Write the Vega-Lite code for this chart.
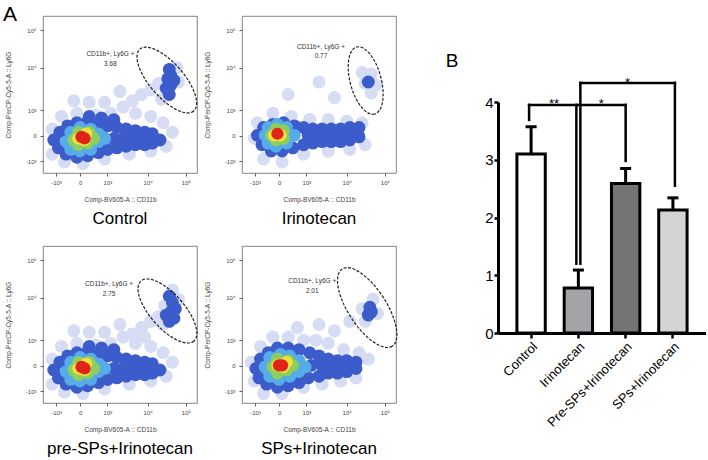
{
  "$schema": "https://vega.github.io/schema/vega-lite/v6.json",
  "background": "white",
  "padding": {"left": 2, "top": 3, "right": 0, "bottom": 0},
  "config": {
    "font": "Liberation Sans",
    "view": {"stroke": "#666", "strokeWidth": 0.8},
    "axis": {"grid": false}
  },
  "datasets": {
    "flow": [
      {"p":"C","k":"A","x":-26,"y":97,"t":"A"},
      {"p":"C","k":"gate","x":80.4,"y":59.2},
      {"p":"I","k":"gate","x":80.3,"y":58.9},
      {"p":"P","k":"gate","x":80.8,"y":58.6},
      {"p":"S","k":"gate","x":81.3,"y":60.8},
      {"p":"C","k":"lab","x":43.8,"y":75.8,"t":"CD11b+, Ly6G +"},
      {"p":"C","k":"lab","x":43.8,"y":69.4,"t":"3.68"},
      {"p":"I","k":"lab","x":51.3,"y":80.3,"t":"CD11b+, Ly6G +"},
      {"p":"I","k":"lab","x":51.3,"y":74.5,"t":"0.77"},
      {"p":"P","k":"lab","x":42.9,"y":75.6,"t":"CD11b+, Ly6G +"},
      {"p":"P","k":"lab","x":42.9,"y":69.6,"t":"2.75"},
      {"p":"S","k":"lab","x":45.6,"y":77.7,"t":"CD11b+, Ly6G +"},
      {"p":"S","k":"lab","x":45.6,"y":71.3,"t":"2.01"},

      {"p":"C","k":"dot","d":1,"x":6,"y":28},{"p":"C","k":"dot","d":1,"x":12,"y":36},{"p":"C","k":"dot","d":1,"x":22,"y":38},{"p":"C","k":"dot","d":1,"x":34,"y":37},
      {"p":"C","k":"dot","d":1,"x":44,"y":38},{"p":"C","k":"dot","d":1,"x":52,"y":42},{"p":"C","k":"dot","d":1,"x":58,"y":46},{"p":"C","k":"dot","d":1,"x":64,"y":50},
      {"p":"C","k":"dot","d":1,"x":70,"y":53},{"p":"C","k":"dot","d":1,"x":75,"y":57},{"p":"C","k":"dot","d":1,"x":60,"y":38},{"p":"C","k":"dot","d":1,"x":70,"y":36},
      {"p":"C","k":"dot","d":1,"x":78,"y":32},{"p":"C","k":"dot","d":1,"x":84,"y":26},{"p":"C","k":"dot","d":1,"x":6,"y":12},{"p":"C","k":"dot","d":1,"x":14,"y":7},
      {"p":"C","k":"dot","d":1,"x":26,"y":6},{"p":"C","k":"dot","d":1,"x":40,"y":9},{"p":"C","k":"dot","d":1,"x":56,"y":12},{"p":"C","k":"dot","d":1,"x":70,"y":14},
      {"p":"C","k":"dot","d":1,"x":80,"y":17},{"p":"C","k":"dot","d":1,"x":40,"y":45},{"p":"C","k":"dot","d":1,"x":50,"y":52},{"p":"C","k":"dot","d":1,"x":30,"y":45},
      {"p":"C","k":"dot","d":1,"x":20,"y":46},{"p":"C","k":"dot","d":1,"x":88,"y":58},{"p":"C","k":"dot","d":1,"x":77,"y":47},{"p":"C","k":"dot","d":1,"x":87,"y":67},
      {"p":"C","k":"dot","d":2,"x":7,"y":21},{"p":"C","k":"dot","d":2,"x":10,"y":16},{"p":"C","k":"dot","d":2,"x":11,"y":26},{"p":"C","k":"dot","d":2,"x":15,"y":12},
      {"p":"C","k":"dot","d":2,"x":16,"y":30},{"p":"C","k":"dot","d":2,"x":22,"y":10},{"p":"C","k":"dot","d":2,"x":22,"y":32},{"p":"C","k":"dot","d":2,"x":29,"y":11},
      {"p":"C","k":"dot","d":2,"x":29,"y":33},{"p":"C","k":"dot","d":2,"x":36,"y":13},{"p":"C","k":"dot","d":2,"x":36,"y":31},{"p":"C","k":"dot","d":2,"x":42,"y":15},
      {"p":"C","k":"dot","d":2,"x":42,"y":30},{"p":"C","k":"dot","d":2,"x":48,"y":16},{"p":"C","k":"dot","d":2,"x":48,"y":29},{"p":"C","k":"dot","d":2,"x":54,"y":17},
      {"p":"C","k":"dot","d":2,"x":54,"y":28},{"p":"C","k":"dot","d":2,"x":60,"y":18},{"p":"C","k":"dot","d":2,"x":60,"y":27},{"p":"C","k":"dot","d":2,"x":66,"y":18},
      {"p":"C","k":"dot","d":2,"x":66,"y":26},{"p":"C","k":"dot","d":2,"x":71,"y":19},{"p":"C","k":"dot","d":2,"x":71,"y":25},{"p":"C","k":"dot","d":2,"x":76,"y":21},
      {"p":"C","k":"dot","d":2,"x":38,"y":35},{"p":"C","k":"dot","d":2,"x":46,"y":34},{"p":"C","k":"dot","d":2,"x":30,"y":36},{"p":"C","k":"dot","d":2,"x":40,"y":22},
      {"p":"C","k":"dot","d":2,"x":46,"y":22},{"p":"C","k":"dot","d":2,"x":52,"y":22},{"p":"C","k":"dot","d":2,"x":58,"y":22},{"p":"C","k":"dot","d":2,"x":64,"y":22},
      {"p":"C","k":"dot","d":2,"x":70,"y":22},{"p":"C","k":"dot","d":2,"x":82,"y":50},{"p":"C","k":"dot","d":2,"x":83,"y":56},{"p":"C","k":"dot","d":2,"x":83,"y":62},
      {"p":"C","k":"dot","d":2,"x":80,"y":54},{"p":"C","k":"dot","d":2,"x":85,"y":59},{"p":"C","k":"dot","d":2,"x":81,"y":60},{"p":"C","k":"dot","d":2,"x":82,"y":66},
      {"p":"C","k":"dot","d":3,"x":15,"y":20},{"p":"C","k":"dot","d":3,"x":18,"y":15},{"p":"C","k":"dot","d":3,"x":18,"y":26},{"p":"C","k":"dot","d":3,"x":24,"y":14},
      {"p":"C","k":"dot","d":3,"x":24,"y":29},{"p":"C","k":"dot","d":3,"x":31,"y":15},{"p":"C","k":"dot","d":3,"x":31,"y":28},{"p":"C","k":"dot","d":3,"x":36,"y":20},
      {"p":"C","k":"dot","d":3,"x":36,"y":25},{"p":"C","k":"dot","d":3,"x":40,"y":22},
      {"p":"C","k":"dot","d":4,"x":20,"y":21},{"p":"C","k":"dot","d":4,"x":23,"y":18},{"p":"C","k":"dot","d":4,"x":23,"y":26},{"p":"C","k":"dot","d":4,"x":29,"y":19},
      {"p":"C","k":"dot","d":4,"x":30,"y":26},{"p":"C","k":"dot","d":4,"x":33,"y":22},
      {"p":"C","k":"dot","d":5,"x":23,"y":22},{"p":"C","k":"dot","d":5,"x":27,"y":21},{"p":"C","k":"dot","d":5,"x":28,"y":25},
      {"p":"C","k":"dot","d":6,"x":25,"y":23},{"p":"C","k":"dot","d":6,"x":27,"y":22},

      {"p":"I","k":"dot","d":1,"x":8,"y":22},{"p":"I","k":"dot","d":1,"x":10,"y":32},{"p":"I","k":"dot","d":1,"x":20,"y":38},{"p":"I","k":"dot","d":1,"x":32,"y":36},
      {"p":"I","k":"dot","d":1,"x":44,"y":34},{"p":"I","k":"dot","d":1,"x":56,"y":34},{"p":"I","k":"dot","d":1,"x":68,"y":33},{"p":"I","k":"dot","d":1,"x":78,"y":32},
      {"p":"I","k":"dot","d":1,"x":14,"y":9},{"p":"I","k":"dot","d":1,"x":26,"y":7},{"p":"I","k":"dot","d":1,"x":40,"y":12},{"p":"I","k":"dot","d":1,"x":56,"y":14},
      {"p":"I","k":"dot","d":1,"x":70,"y":15},{"p":"I","k":"dot","d":1,"x":80,"y":18},{"p":"I","k":"dot","d":1,"x":30,"y":50},{"p":"I","k":"dot","d":1,"x":50,"y":58},
      {"p":"I","k":"dot","d":1,"x":60,"y":48},{"p":"I","k":"dot","d":1,"x":80,"y":57},{"p":"I","k":"dot","d":1,"x":84,"y":51},{"p":"I","k":"dot","d":1,"x":84,"y":63},
      {"p":"I","k":"dot","d":1,"x":78,"y":64},{"p":"I","k":"dot","d":1,"x":87,"y":56},
      {"p":"I","k":"dot","d":2,"x":10,"y":24},{"p":"I","k":"dot","d":2,"x":13,"y":18},{"p":"I","k":"dot","d":2,"x":14,"y":29},{"p":"I","k":"dot","d":2,"x":19,"y":14},
      {"p":"I","k":"dot","d":2,"x":20,"y":31},{"p":"I","k":"dot","d":2,"x":26,"y":14},{"p":"I","k":"dot","d":2,"x":27,"y":32},{"p":"I","k":"dot","d":2,"x":33,"y":16},
      {"p":"I","k":"dot","d":2,"x":34,"y":30},{"p":"I","k":"dot","d":2,"x":40,"y":18},{"p":"I","k":"dot","d":2,"x":40,"y":29},{"p":"I","k":"dot","d":2,"x":46,"y":19},
      {"p":"I","k":"dot","d":2,"x":46,"y":28},{"p":"I","k":"dot","d":2,"x":52,"y":20},{"p":"I","k":"dot","d":2,"x":52,"y":28},{"p":"I","k":"dot","d":2,"x":58,"y":20},
      {"p":"I","k":"dot","d":2,"x":58,"y":28},{"p":"I","k":"dot","d":2,"x":64,"y":20},{"p":"I","k":"dot","d":2,"x":64,"y":28},{"p":"I","k":"dot","d":2,"x":70,"y":21},
      {"p":"I","k":"dot","d":2,"x":70,"y":29},{"p":"I","k":"dot","d":2,"x":76,"y":23},{"p":"I","k":"dot","d":2,"x":76,"y":29},{"p":"I","k":"dot","d":2,"x":43,"y":24},
      {"p":"I","k":"dot","d":2,"x":49,"y":24},{"p":"I","k":"dot","d":2,"x":55,"y":24},{"p":"I","k":"dot","d":2,"x":61,"y":24},{"p":"I","k":"dot","d":2,"x":67,"y":25},
      {"p":"I","k":"dot","d":2,"x":73,"y":26},{"p":"I","k":"dot","d":2,"x":82,"y":58},
      {"p":"I","k":"dot","d":3,"x":15,"y":24},{"p":"I","k":"dot","d":3,"x":17,"y":19},{"p":"I","k":"dot","d":3,"x":17,"y":29},{"p":"I","k":"dot","d":3,"x":22,"y":17},
      {"p":"I","k":"dot","d":3,"x":23,"y":31},{"p":"I","k":"dot","d":3,"x":29,"y":19},{"p":"I","k":"dot","d":3,"x":29,"y":29},{"p":"I","k":"dot","d":3,"x":34,"y":24},
      {"p":"I","k":"dot","d":4,"x":19,"y":24},{"p":"I","k":"dot","d":4,"x":22,"y":21},{"p":"I","k":"dot","d":4,"x":22,"y":28},{"p":"I","k":"dot","d":4,"x":27,"y":22},
      {"p":"I","k":"dot","d":4,"x":27,"y":27},
      {"p":"I","k":"dot","d":5,"x":21,"y":24},{"p":"I","k":"dot","d":5,"x":25,"y":24},
      {"p":"I","k":"dot","d":6,"x":23,"y":25},

      {"p":"P","k":"dot","d":1,"x":6,"y":28},{"p":"P","k":"dot","d":1,"x":12,"y":36},{"p":"P","k":"dot","d":1,"x":22,"y":38},{"p":"P","k":"dot","d":1,"x":34,"y":37},
      {"p":"P","k":"dot","d":1,"x":44,"y":38},{"p":"P","k":"dot","d":1,"x":52,"y":42},{"p":"P","k":"dot","d":1,"x":58,"y":44},{"p":"P","k":"dot","d":1,"x":64,"y":48},
      {"p":"P","k":"dot","d":1,"x":70,"y":52},{"p":"P","k":"dot","d":1,"x":75,"y":55},{"p":"P","k":"dot","d":1,"x":60,"y":38},{"p":"P","k":"dot","d":1,"x":70,"y":36},
      {"p":"P","k":"dot","d":1,"x":78,"y":32},{"p":"P","k":"dot","d":1,"x":84,"y":26},{"p":"P","k":"dot","d":1,"x":6,"y":12},{"p":"P","k":"dot","d":1,"x":14,"y":7},
      {"p":"P","k":"dot","d":1,"x":26,"y":6},{"p":"P","k":"dot","d":1,"x":40,"y":9},{"p":"P","k":"dot","d":1,"x":56,"y":12},{"p":"P","k":"dot","d":1,"x":70,"y":14},
      {"p":"P","k":"dot","d":1,"x":80,"y":17},{"p":"P","k":"dot","d":1,"x":40,"y":45},{"p":"P","k":"dot","d":1,"x":50,"y":50},{"p":"P","k":"dot","d":1,"x":30,"y":45},
      {"p":"P","k":"dot","d":1,"x":20,"y":46},{"p":"P","k":"dot","d":1,"x":78,"y":50},{"p":"P","k":"dot","d":1,"x":88,"y":66},{"p":"P","k":"dot","d":1,"x":84,"y":72},
      {"p":"P","k":"dot","d":1,"x":79,"y":62},{"p":"P","k":"dot","d":1,"x":66,"y":42},
      {"p":"P","k":"dot","d":2,"x":7,"y":21},{"p":"P","k":"dot","d":2,"x":10,"y":16},{"p":"P","k":"dot","d":2,"x":11,"y":26},{"p":"P","k":"dot","d":2,"x":15,"y":12},
      {"p":"P","k":"dot","d":2,"x":16,"y":30},{"p":"P","k":"dot","d":2,"x":22,"y":10},{"p":"P","k":"dot","d":2,"x":22,"y":32},{"p":"P","k":"dot","d":2,"x":29,"y":11},
      {"p":"P","k":"dot","d":2,"x":29,"y":33},{"p":"P","k":"dot","d":2,"x":36,"y":13},{"p":"P","k":"dot","d":2,"x":36,"y":31},{"p":"P","k":"dot","d":2,"x":42,"y":15},
      {"p":"P","k":"dot","d":2,"x":42,"y":30},{"p":"P","k":"dot","d":2,"x":48,"y":16},{"p":"P","k":"dot","d":2,"x":48,"y":29},{"p":"P","k":"dot","d":2,"x":54,"y":17},
      {"p":"P","k":"dot","d":2,"x":54,"y":28},{"p":"P","k":"dot","d":2,"x":60,"y":18},{"p":"P","k":"dot","d":2,"x":60,"y":27},{"p":"P","k":"dot","d":2,"x":66,"y":18},
      {"p":"P","k":"dot","d":2,"x":66,"y":26},{"p":"P","k":"dot","d":2,"x":71,"y":19},{"p":"P","k":"dot","d":2,"x":71,"y":25},{"p":"P","k":"dot","d":2,"x":76,"y":21},
      {"p":"P","k":"dot","d":2,"x":38,"y":35},{"p":"P","k":"dot","d":2,"x":46,"y":34},{"p":"P","k":"dot","d":2,"x":30,"y":36},{"p":"P","k":"dot","d":2,"x":40,"y":22},
      {"p":"P","k":"dot","d":2,"x":46,"y":22},{"p":"P","k":"dot","d":2,"x":52,"y":22},{"p":"P","k":"dot","d":2,"x":58,"y":22},{"p":"P","k":"dot","d":2,"x":64,"y":22},
      {"p":"P","k":"dot","d":2,"x":70,"y":22},{"p":"P","k":"dot","d":2,"x":82,"y":52},{"p":"P","k":"dot","d":2,"x":83,"y":58},{"p":"P","k":"dot","d":2,"x":84,"y":64},
      {"p":"P","k":"dot","d":2,"x":80,"y":56},{"p":"P","k":"dot","d":2,"x":86,"y":60},{"p":"P","k":"dot","d":2,"x":82,"y":68},{"p":"P","k":"dot","d":2,"x":85,"y":54},
      {"p":"P","k":"dot","d":3,"x":15,"y":20},{"p":"P","k":"dot","d":3,"x":18,"y":15},{"p":"P","k":"dot","d":3,"x":18,"y":26},{"p":"P","k":"dot","d":3,"x":24,"y":14},
      {"p":"P","k":"dot","d":3,"x":24,"y":29},{"p":"P","k":"dot","d":3,"x":31,"y":15},{"p":"P","k":"dot","d":3,"x":31,"y":28},{"p":"P","k":"dot","d":3,"x":36,"y":20},
      {"p":"P","k":"dot","d":3,"x":36,"y":25},{"p":"P","k":"dot","d":3,"x":40,"y":22},
      {"p":"P","k":"dot","d":4,"x":20,"y":21},{"p":"P","k":"dot","d":4,"x":23,"y":18},{"p":"P","k":"dot","d":4,"x":23,"y":26},{"p":"P","k":"dot","d":4,"x":29,"y":19},
      {"p":"P","k":"dot","d":4,"x":30,"y":26},{"p":"P","k":"dot","d":4,"x":33,"y":22},
      {"p":"P","k":"dot","d":5,"x":23,"y":22},{"p":"P","k":"dot","d":5,"x":27,"y":21},{"p":"P","k":"dot","d":5,"x":28,"y":25},
      {"p":"P","k":"dot","d":6,"x":25,"y":23},{"p":"P","k":"dot","d":6,"x":27,"y":22},

      {"p":"S","k":"dot","d":1,"x":6,"y":26},{"p":"S","k":"dot","d":1,"x":8,"y":14},{"p":"S","k":"dot","d":1,"x":12,"y":36},{"p":"S","k":"dot","d":1,"x":20,"y":42},
      {"p":"S","k":"dot","d":1,"x":30,"y":42},{"p":"S","k":"dot","d":1,"x":40,"y":40},{"p":"S","k":"dot","d":1,"x":48,"y":40},{"p":"S","k":"dot","d":1,"x":56,"y":38},
      {"p":"S","k":"dot","d":1,"x":66,"y":34},{"p":"S","k":"dot","d":1,"x":76,"y":32},{"p":"S","k":"dot","d":1,"x":82,"y":28},{"p":"S","k":"dot","d":1,"x":14,"y":6},
      {"p":"S","k":"dot","d":1,"x":26,"y":6},{"p":"S","k":"dot","d":1,"x":40,"y":10},{"p":"S","k":"dot","d":1,"x":52,"y":12},{"p":"S","k":"dot","d":1,"x":64,"y":14},
      {"p":"S","k":"dot","d":1,"x":74,"y":16},{"p":"S","k":"dot","d":1,"x":50,"y":50},{"p":"S","k":"dot","d":1,"x":60,"y":46},{"p":"S","k":"dot","d":1,"x":70,"y":52},
      {"p":"S","k":"dot","d":1,"x":80,"y":52},{"p":"S","k":"dot","d":1,"x":85,"y":66},{"p":"S","k":"dot","d":1,"x":78,"y":60},{"p":"S","k":"dot","d":1,"x":88,"y":57},
      {"p":"S","k":"dot","d":1,"x":36,"y":48},
      {"p":"S","k":"dot","d":2,"x":9,"y":22},{"p":"S","k":"dot","d":2,"x":11,"y":16},{"p":"S","k":"dot","d":2,"x":12,"y":28},{"p":"S","k":"dot","d":2,"x":16,"y":12},
      {"p":"S","k":"dot","d":2,"x":17,"y":32},{"p":"S","k":"dot","d":2,"x":23,"y":10},{"p":"S","k":"dot","d":2,"x":23,"y":35},{"p":"S","k":"dot","d":2,"x":30,"y":11},
      {"p":"S","k":"dot","d":2,"x":30,"y":35},{"p":"S","k":"dot","d":2,"x":37,"y":13},{"p":"S","k":"dot","d":2,"x":37,"y":34},{"p":"S","k":"dot","d":2,"x":43,"y":16},
      {"p":"S","k":"dot","d":2,"x":44,"y":32},{"p":"S","k":"dot","d":2,"x":50,"y":17},{"p":"S","k":"dot","d":2,"x":50,"y":30},{"p":"S","k":"dot","d":2,"x":56,"y":19},
      {"p":"S","k":"dot","d":2,"x":56,"y":28},{"p":"S","k":"dot","d":2,"x":62,"y":19},{"p":"S","k":"dot","d":2,"x":62,"y":27},{"p":"S","k":"dot","d":2,"x":68,"y":20},
      {"p":"S","k":"dot","d":2,"x":68,"y":27},{"p":"S","k":"dot","d":2,"x":74,"y":22},{"p":"S","k":"dot","d":2,"x":74,"y":26},{"p":"S","k":"dot","d":2,"x":45,"y":24},
      {"p":"S","k":"dot","d":2,"x":52,"y":24},{"p":"S","k":"dot","d":2,"x":59,"y":23},{"p":"S","k":"dot","d":2,"x":65,"y":23},{"p":"S","k":"dot","d":2,"x":82,"y":56},
      {"p":"S","k":"dot","d":2,"x":83,"y":61},{"p":"S","k":"dot","d":2,"x":84,"y":58},
      {"p":"S","k":"dot","d":3,"x":15,"y":23},{"p":"S","k":"dot","d":3,"x":18,"y":17},{"p":"S","k":"dot","d":3,"x":18,"y":29},{"p":"S","k":"dot","d":3,"x":24,"y":15},
      {"p":"S","k":"dot","d":3,"x":25,"y":31},{"p":"S","k":"dot","d":3,"x":31,"y":17},{"p":"S","k":"dot","d":3,"x":31,"y":30},{"p":"S","k":"dot","d":3,"x":37,"y":20},
      {"p":"S","k":"dot","d":3,"x":37,"y":27},{"p":"S","k":"dot","d":3,"x":41,"y":23},
      {"p":"S","k":"dot","d":4,"x":20,"y":23},{"p":"S","k":"dot","d":4,"x":23,"y":19},{"p":"S","k":"dot","d":4,"x":23,"y":28},{"p":"S","k":"dot","d":4,"x":29,"y":21},
      {"p":"S","k":"dot","d":4,"x":30,"y":27},{"p":"S","k":"dot","d":4,"x":33,"y":24},
      {"p":"S","k":"dot","d":5,"x":23,"y":24},{"p":"S","k":"dot","d":5,"x":27,"y":23},{"p":"S","k":"dot","d":5,"x":29,"y":26},
      {"p":"S","k":"dot","d":6,"x":24,"y":24},{"p":"S","k":"dot","d":6,"x":26,"y":24}
    ],
    "bars": [
      {"group": "Control", "mean": 3.1, "upper": 3.57},
      {"group": "Irinotecan", "mean": 0.78, "upper": 1.09},
      {"group": "Pre-SPs+Irinotecan", "mean": 2.59, "upper": 2.85},
      {"group": "SPs+Irinotecan", "mean": 2.13, "upper": 2.34}
    ],
    "brackets": [
      {"b": 1, "from": "Control", "to": "Control", "lo": 3.69, "hi": 3.95},
      {"b": 1, "from": "Control", "to": "Irinotecan", "lo": 3.95, "hi": 3.95},
      {"b": 1, "from": "Irinotecan", "to": "Irinotecan", "lo": 1.2, "hi": 3.95},
      {"b": 2, "from": "Irinotecan", "to": "Pre-SPs+Irinotecan", "lo": 3.95, "hi": 3.95},
      {"b": 2, "from": "Pre-SPs+Irinotecan", "to": "Pre-SPs+Irinotecan", "lo": 2.98, "hi": 3.95},
      {"b": 3, "from": "Irinotecan", "to": "Irinotecan", "lo": 1.2, "hi": 4.33},
      {"b": 3, "from": "Irinotecan", "to": "SPs+Irinotecan", "lo": 4.33, "hi": 4.33},
      {"b": 3, "from": "SPs+Irinotecan", "to": "SPs+Irinotecan", "lo": 2.55, "hi": 4.33}
    ],
    "stars": [
      {"s": "**", "at": "Control", "v": 3.95},
      {"s": "*", "at": "Irinotecan", "v": 3.95},
      {"s": "*", "at": "Pre-SPs+Irinotecan", "v": 4.33}
    ]
  },
  "spacing": 45,
  "hconcat": [
    {
      "data": {"name": "flow"},
      "facet": {
        "field": "p",
        "type": "nominal",
        "header": {
          "title": null,
          "labelOrient": "bottom",
          "labelFontSize": 17,
          "labelColor": "black",
          "labelPadding": 8,
          "labelExpr": "datum.value == 'C' ? 'Control' : datum.value == 'I' ? 'Irinotecan' : datum.value == 'P' ? 'pre-SPs+Irinotecan' : 'SPs+Irinotecan'"
        }
      },
      "columns": 2,
      "spacing": {"row": 18, "column": 2},
      "resolve": {"axis": {"x": "independent", "y": "independent"}},
      "spec": {
        "width": 154,
        "height": 157,
        "encoding": {
          "x": {
            "field": "x", "type": "quantitative",
            "scale": {"domain": [0, 100], "nice": false, "zero": false},
            "axis": {
              "title": "Comp-BV605-A :: CD11b",
              "values": [8.5, 24.2, 41.8, 68, 92.8],
              "labelExpr": "datum.value < 15 ? '-10³' : datum.value < 30 ? '0' : datum.value < 50 ? '10³' : datum.value < 80 ? '10⁴' : '10⁵'",
              "domain": false, "tickSize": 3, "tickWidth": 0.8, "tickColor": "#333",
              "labelFontSize": 6, "labelColor": "#444", "labelPadding": 3, "labelOverlap": false, "labelFlush": false,
              "titleFontSize": 6.5, "titleFontWeight": "normal", "titleColor": "#444", "titlePadding": 11
            }
          },
          "y": {
            "field": "y", "type": "quantitative",
            "scale": {"domain": [0, 100], "nice": false, "zero": false},
            "axis": {
              "title": "Comp-PerCP-Cy5-5-A :: Ly6G",
              "values": [7.6, 23.6, 40.1, 66.9, 91],
              "labelExpr": "datum.value < 15 ? '-10³' : datum.value < 30 ? '0' : datum.value < 50 ? '10³' : datum.value < 80 ? '10⁴' : '10⁵'",
              "domain": false, "tickSize": 3, "tickWidth": 0.8, "tickColor": "#333",
              "labelFontSize": 6, "labelColor": "#444", "labelPadding": 4, "labelOverlap": false, "labelFlush": false,
              "titleFontSize": 6.5, "titleFontWeight": "normal", "titleColor": "#444", "titlePadding": 14
            }
          }
        },
        "layer": [
          {
            "transform": [{"filter": "datum.k == 'dot'"}],
            "mark": {"type": "point", "shape": "circle", "filled": true, "strokeWidth": 0, "opacity": 1},
            "encoding": {
              "color": {"field": "d", "type": "ordinal", "scale": {"domain": [1, 2, 3, 4, 5, 6], "range": ["#d5dcf4", "#3d5ccb", "#55ace8", "#8ccf5c", "#f0e23c", "#e2231a"]}, "legend": null},
              "size": {"field": "d", "type": "ordinal", "scale": {"domain": [1, 2, 3, 4, 5, 6], "range": [170, 150, 110, 75, 40, 22]}, "legend": null},
              "order": {"field": "d", "type": "quantitative"}
            }
          },
          {
            "transform": [{"filter": "datum.k == 'gate' && datum.p == 'C'"}],
            "mark": {"type": "point", "shape": "M1,0C1,0.229,0.552,0.415,0,0.415C-0.552,0.415,-1,0.229,-1,0C-1,-0.229,-0.552,-0.415,0,-0.415C0.552,-0.415,1,-0.229,1,0Z", "size": 6724, "angle": 49, "filled": false, "stroke": "#222", "strokeWidth": 1.2, "strokeDash": [3, 1.5], "opacity": 1}
          },
          {
            "transform": [{"filter": "datum.k == 'gate' && datum.p == 'I'"}],
            "mark": {"type": "point", "shape": "M1,0C1,0.247,0.552,0.447,0,0.447C-0.552,0.447,-1,0.247,-1,0C-1,-0.247,-0.552,-0.447,0,-0.447C0.552,-0.447,1,-0.247,1,0Z", "size": 4816, "angle": 75, "filled": false, "stroke": "#222", "strokeWidth": 1.2, "strokeDash": [3, 1.5], "opacity": 1}
          },
          {
            "transform": [{"filter": "datum.k == 'gate' && datum.p == 'P'"}],
            "mark": {"type": "point", "shape": "M1,0C1,0.235,0.552,0.425,0,0.425C-0.552,0.425,-1,0.235,-1,0C-1,-0.235,-0.552,-0.425,0,-0.425C0.552,-0.425,1,-0.235,1,0Z", "size": 6400, "angle": 48.5, "filled": false, "stroke": "#222", "strokeWidth": 1.2, "strokeDash": [3, 1.5], "opacity": 1}
          },
          {
            "transform": [{"filter": "datum.k == 'gate' && datum.p == 'S'"}],
            "mark": {"type": "point", "shape": "M1,0C1,0.228,0.552,0.413,0,0.413C-0.552,0.413,-1,0.228,-1,0C-1,-0.228,-0.552,-0.413,0,-0.413C0.552,-0.413,1,-0.228,1,0Z", "size": 8464, "angle": 57, "filled": false, "stroke": "#222", "strokeWidth": 1.2, "strokeDash": [3, 1.5], "opacity": 1}
          },
          {
            "transform": [{"filter": "datum.k == 'lab'"}],
            "mark": {"type": "text", "fontSize": 6.5, "color": "#333"},
            "encoding": {"text": {"field": "t"}}
          },
          {
            "transform": [{"filter": "datum.k == 'A'"}],
            "mark": {"type": "text", "fontSize": 21, "align": "left", "baseline": "alphabetic", "color": "black"},
            "encoding": {"text": {"field": "t"}}
          }
        ]
      }
    },
    {
      "spacing": 0,
      "vconcat": [
        {
          "width": 10,
          "height": 35,
          "view": {"stroke": null},
          "data": {"values": [{"v": 0}]},
          "mark": {"type": "point", "opacity": 0}
        },
        {
          "width": 208,
          "height": 231,
          "view": {"stroke": null},
          "title": {"text": "B", "anchor": "start", "frame": "bounds", "fontSize": 19, "fontWeight": "normal", "color": "black", "dx": -39, "offset": 6},
          "layer": [
            {
              "data": {"name": "bars"},
              "mark": {"type": "bar", "stroke": "black", "strokeWidth": 3},
              "encoding": {
                "x": {
                  "field": "group", "type": "nominal", "title": null,
                  "scale": {"domain": ["Control", "Irinotecan", "Pre-SPs+Irinotecan", "SPs+Irinotecan"], "paddingInner": 0.4, "paddingOuter": 0.4},
                  "axis": {"labelAngle": -45, "labelAlign": "right", "labelBaseline": "top", "labelFontSize": 13, "labelColor": "black", "labelPadding": 2, "tickSize": 5, "tickWidth": 2.5, "tickColor": "black", "domainWidth": 3, "domainColor": "black"}
                },
                "y": {
                  "field": "mean", "type": "quantitative", "title": "% of CD11b⁺Ly6G⁺ cell",
                  "scale": {"domain": [0, 4], "nice": false},
                  "axis": {"values": [0, 1, 2, 3, 4], "format": "d", "labelFontSize": 15, "labelColor": "black", "labelPadding": 1, "tickSize": 4, "tickWidth": 2.5, "tickColor": "black", "domainWidth": 3, "domainColor": "black", "titleFontSize": 15, "titleFontWeight": "normal", "titleColor": "black", "titlePadding": 6}
                },
                "fill": {"field": "group", "type": "nominal", "scale": {"domain": ["Control", "Irinotecan", "Pre-SPs+Irinotecan", "SPs+Irinotecan"], "range": ["#ffffff", "#a3a3a8", "#747474", "#d4d4d4"]}, "legend": null}
              }
            },
            {
              "data": {"name": "bars"},
              "mark": {"type": "rule", "strokeWidth": 3, "color": "black"},
              "encoding": {
                "x": {"field": "group", "type": "nominal", "title": null},
                "y": {"field": "mean", "type": "quantitative", "title": null},
                "y2": {"field": "upper"}
              }
            },
            {
              "data": {"name": "bars"},
              "mark": {"type": "tick", "orient": "horizontal", "thickness": 3, "size": 11, "color": "black", "opacity": 1},
              "encoding": {
                "x": {"field": "group", "type": "nominal", "title": null},
                "y": {"field": "upper", "type": "quantitative", "title": null}
              }
            },
            {
              "data": {"name": "brackets"},
              "transform": [{"filter": "datum.b == 1"}],
              "mark": {"type": "rule", "strokeWidth": 2.5, "color": "black", "strokeCap": "square", "xOffset": -2, "x2Offset": -2},
              "encoding": {
                "x": {"field": "from", "type": "nominal", "title": null},
                "x2": {"field": "to"},
                "y": {"field": "lo", "type": "quantitative", "title": null},
                "y2": {"field": "hi"}
              }
            },
            {
              "data": {"name": "brackets"},
              "transform": [{"filter": "datum.b == 2"}],
              "mark": {"type": "rule", "strokeWidth": 2.5, "color": "black", "strokeCap": "square"},
              "encoding": {
                "x": {"field": "from", "type": "nominal", "title": null},
                "x2": {"field": "to"},
                "y": {"field": "lo", "type": "quantitative", "title": null},
                "y2": {"field": "hi"}
              }
            },
            {
              "data": {"name": "brackets"},
              "transform": [{"filter": "datum.b == 3"}],
              "mark": {"type": "rule", "strokeWidth": 2.5, "color": "black", "strokeCap": "square", "xOffset": 2, "x2Offset": 2},
              "encoding": {
                "x": {"field": "from", "type": "nominal", "title": null},
                "x2": {"field": "to"},
                "y": {"field": "lo", "type": "quantitative", "title": null},
                "y2": {"field": "hi"}
              }
            },
            {
              "data": {"name": "stars"},
              "transform": [{"filter": "datum.at != 'Pre-SPs+Irinotecan'"}],
              "mark": {"type": "text", "fontSize": 13, "baseline": "alphabetic", "dx": 23, "dy": 3.6, "color": "black"},
              "encoding": {
                "x": {"field": "at", "type": "nominal", "title": null},
                "y": {"field": "v", "type": "quantitative", "title": null},
                "text": {"field": "s"}
              }
            },
            {
              "data": {"name": "stars"},
              "transform": [{"filter": "datum.at == 'Pre-SPs+Irinotecan'"}],
              "mark": {"type": "text", "fontSize": 13, "baseline": "alphabetic", "dx": 2, "dy": 3.6, "color": "black"},
              "encoding": {
                "x": {"field": "at", "type": "nominal", "title": null},
                "y": {"field": "v", "type": "quantitative", "title": null},
                "text": {"field": "s"}
              }
            }
          ]
        }
      ]
    }
  ]
}
